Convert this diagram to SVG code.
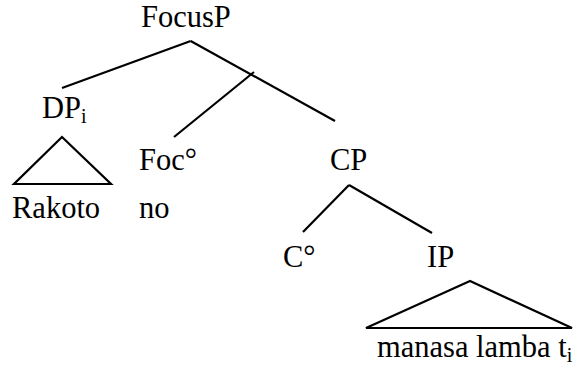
<svg xmlns="http://www.w3.org/2000/svg" width="581" height="366" viewBox="0 0 581 366">
<style>
text{font-family:"Liberation Serif","Times New Roman",serif;font-size:30.5px;fill:#000}
.sub{font-size:20px}
.ln{stroke:#000;stroke-width:2.2;fill:none;stroke-linejoin:miter}
</style>
<rect width="581" height="366" fill="#fff"/>
<g id="connectors">
<line class="ln" x1="190.7" y1="41" x2="62" y2="88"/>
<line class="ln" x1="190.7" y1="41" x2="335" y2="121"/>
<line class="ln" x1="254" y1="72" x2="174" y2="137"/>
<line class="ln" x1="349" y1="185" x2="303" y2="232"/>
<line class="ln" x1="349" y1="185" x2="432" y2="233"/>
</g>
<g id="FocusP"><text x="141" y="27">FocusP</text></g>
<g id="DP"><text x="42" y="118">DP<tspan class="sub" dy="5">i</tspan></text></g>
<g id="DP-triangle"><polygon class="ln" points="62,137 14,184 111,184"/></g>
<g id="Rakoto"><text x="12" y="218">Rakoto</text></g>
<g id="Foc"><text x="139" y="170">Foc°</text></g>
<g id="no"><text x="139" y="218">no</text></g>
<g id="CP"><text x="330" y="170">CP</text></g>
<g id="C"><text x="283" y="267">C°</text></g>
<g id="IP"><text x="427" y="267">IP</text></g>
<g id="IP-triangle"><polygon class="ln" points="470,281 366,328 572,328"/></g>
<g id="manasa"><text x="377" y="357">manasa lamba t<tspan class="sub" dy="5">i</tspan></text></g>
</svg>
